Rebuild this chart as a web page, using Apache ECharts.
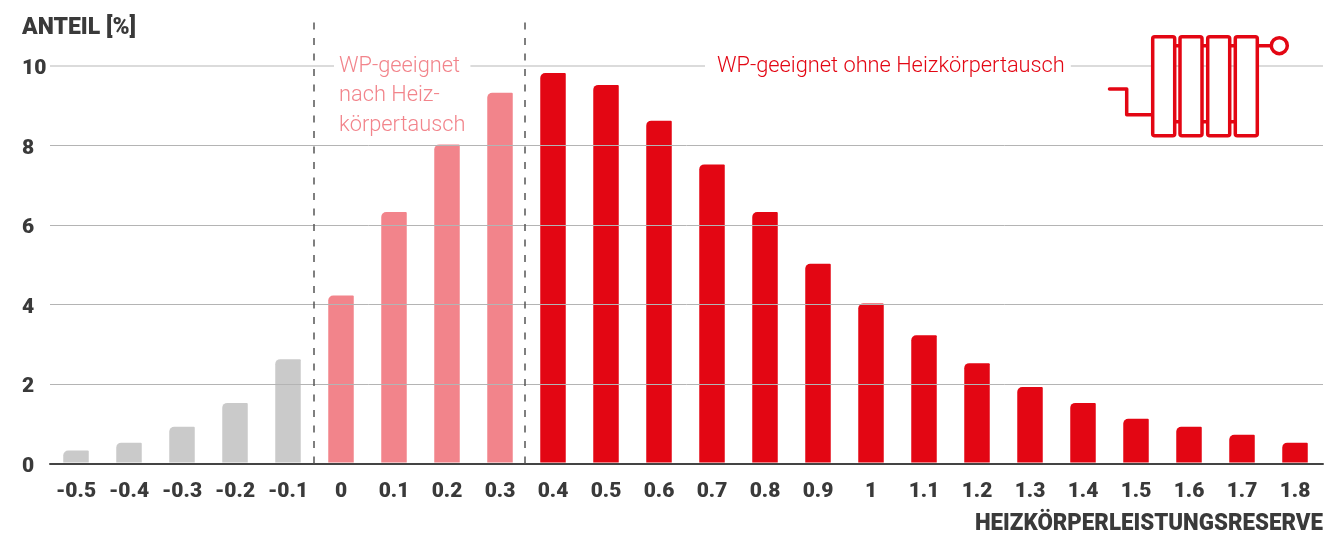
<!DOCTYPE html>
<html>
<head>
<meta charset="utf-8">
<style>html,body{margin:0;padding:0;background:#fff}#chart{width:1325px;height:534px}</style>
<script src="https://cdn.jsdelivr.net/npm/echarts@6/dist/echarts.min.js"></script>
</head>
<body>
<div id="chart"></div>
<script>
// Share of buildings per radiator output reserve
const categories = ['-0.5','-0.4','-0.3','-0.2','-0.1','0','0.1','0.2','0.3','0.4','0.5','0.6','0.7','0.8','0.9','1','1.1','1.2','1.3','1.4','1.5','1.6','1.7','1.8'];
const shares = [0.3,0.5,0.9,1.5,2.6,4.2,6.3,8.0,9.3,9.8,9.5,8.6,7.5,6.3,5.0,4.0,3.2,2.5,1.9,1.5,1.1,0.9,0.7,0.5];
const gridValues = [2,4,6,8,10];
const zoneBreaks = [-0.052,0.346];

const GREY = '#cacaca', PINK = '#f2848b', RED = '#e30613', INK = '#3a3a3a';
const HEAVY = 'Roboto,sans-serif';
const barColor = i => { const v = parseFloat(categories[i]); return v < 0 ? GREY : v < 0.35 ? PINK : RED; };

// Plot spans a little above 10 so the zone dividers can rise past the top gridline
const TOP = 18, HEIGHT = 445.5, YMAX = HEIGHT / 39.75;

const chart = echarts.init(document.getElementById('chart'), null, {renderer:'canvas'});

const note = (text, x, y, color, padding) => ({
  type:'text', x, y, z:6,
  style:{text, fill:color, font:'300 21.8px Roboto', lineHeight:29.5,
    backgroundColor:'#fff', padding, verticalAlign:'middle'}
});

const STROKE = 3.5;
const pipe = pts => ({type:'polyline', z:8, shape:{points:pts},
  style:{stroke:RED, lineWidth:STROKE, fill:null, lineJoin:'round', lineCap:'round'}});
const column = x => ({type:'rect', z:8, shape:{x, y:36.7, width:22, height:99, r:2},
  style:{stroke:RED, lineWidth:STROKE, fill:'#fff'}});

chart.setOption({
  animation:false,
  backgroundColor:'#fff',
  grid:[
    {left:49.5, width:1272, top:TOP-1, height:HEIGHT},
    {left:50, width:1273, top:TOP, height:HEIGHT}
  ],
  xAxis:[
    {type:'category', gridIndex:0, data:categories, boundaryGap:true,
     axisLine:{show:false}, axisTick:{show:false},
     axisLabel:{interval:0, color:INK, fontFamily:HEAVY, fontWeight:900, fontSize:21, margin:19}},
    {type:'value', gridIndex:1, min:-0.5491, max:1.8528, show:true,
     axisLine:{show:true, onZero:false, lineStyle:{color:'#444', width:2}},
     axisTick:{show:false}, axisLabel:{show:false}, splitLine:{show:false}}
  ],
  yAxis:[
    {type:'value', gridIndex:0, min:0, max:YMAX, interval:2,
     axisLine:{show:false}, axisTick:{show:false}, splitLine:{show:false},
     axisLabel:{showMaxLabel:false, color:INK, fontFamily:HEAVY, fontWeight:900, fontSize:21,
       align:'left', margin:27.5, verticalAlign:'top', lineHeight:8}},
    {type:'value', gridIndex:1, min:0, max:YMAX, show:false, splitLine:{show:false}}
  ],
  series:[
    {type:'line', xAxisIndex:1, yAxisIndex:1, data:[], silent:true, z:1,
     markLine:{silent:true, symbol:'none', label:{show:false}, animation:false,
       data:gridValues.map(v => ({yAxis:v, lineStyle:{color:v===10?'#cfcfcf':'#b4b4b4', width:v===10?1.5:1, type:'solid'}}))}},
    {type:'bar', xAxisIndex:0, yAxisIndex:0, z:2, barWidth:25.5,
     itemStyle:{borderRadius:[5,1,0,0]},
     data:shares.map((v,i) => ({value:v, itemStyle:{color:barColor(i)}}))},
    {type:'line', xAxisIndex:1, yAxisIndex:1, data:[], silent:true, z:3,
     markLine:{silent:true, symbol:'none', label:{show:false}, animation:false, precision:4,
       data:zoneBreaks.map(v => ({xAxis:v, lineStyle:{color:'#555', width:1.5, type:[7,8.5]}}))}}
  ],
  graphic:[
    {type:'text', x:22, y:28, z:6, style:{text:'ANTEIL [%]', fill:INK, font:'900 23px '+HEAVY, verticalAlign:'middle'}},
    {type:'text', x:1323, y:524, z:6, scaleX:0.97, style:{text:'HEIZKÖRPERLEISTUNGSRESERVE', fill:INK, font:'900 23px '+HEAVY, align:'right', verticalAlign:'middle'}},
    note('WP-geeignet\nnach Heiz-\nkörpertausch', 334, 96, PINK, [0,5,0,5]),
    note('WP-geeignet ohne Heizkörpertausch', 705, 66.5, RED, [0,6,0,12]),
    {type:'rect', z:5, shape:{x:1142, y:60, width:126, height:12}, style:{fill:'#fff'}},
    pipe([[1109.5,89],[1126.7,89],[1126.7,114.7],[1153,114.7]]),
    pipe([[1174,45.7],[1180,45.7]]), pipe([[1202,45.7],[1208,45.7]]), pipe([[1230,45.7],[1235,45.7]]),
    pipe([[1174,121.7],[1180,121.7]]), pipe([[1202,121.7],[1208,121.7]]), pipe([[1230,121.7],[1235,121.7]]),
    pipe([[1257,45.7],[1271,45.7]]),
    column(1152.7), column(1180), column(1207.7), column(1235.3),
    {type:'circle', z:8, shape:{cx:1279.3, cy:45.7, r:8}, style:{stroke:RED, lineWidth:STROKE, fill:'#fff'}}
  ]
});
</script>
</body>
</html>
